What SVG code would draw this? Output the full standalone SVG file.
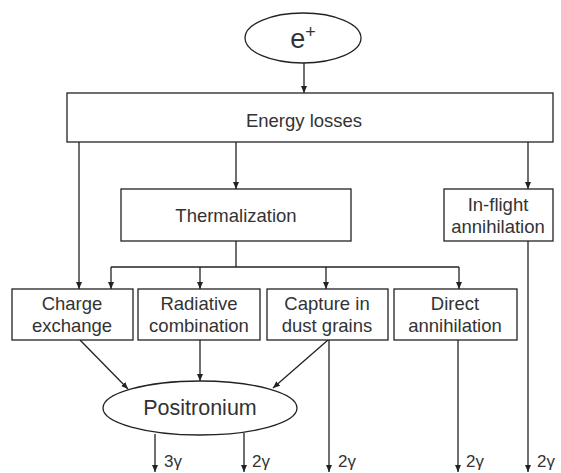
<svg xmlns="http://www.w3.org/2000/svg" width="561" height="473" viewBox="0 0 561 473">
<style>
.box{fill:#fff;stroke:#222;stroke-width:1.3}
.t{font-family:"Liberation Sans",Arial,sans-serif;font-size:18.5px;fill:#333;text-anchor:middle}
.g{font-family:"Liberation Sans",Arial,sans-serif;font-size:17px;fill:#333}
.c{fill:none;stroke:#222;stroke-width:1.3}
</style>
<defs>
<marker id="ah" markerUnits="userSpaceOnUse" markerWidth="8" markerHeight="8" viewBox="0 0 8 8" refX="7" refY="4" orient="auto">
<path d="M0,1 L7,4 L0,7 Z" fill="#222"/>
</marker>
</defs>
<rect width="561" height="473" fill="#fff"/>
<g id="connectors">
<line class="c" x1="304" y1="63" x2="304" y2="93" marker-end="url(#ah)"/>
<line class="c" x1="79" y1="142" x2="79" y2="289" marker-end="url(#ah)"/>
<line class="c" x1="236" y1="142" x2="236" y2="189" marker-end="url(#ah)"/>
<line class="c" x1="528" y1="142" x2="528" y2="189" marker-end="url(#ah)"/>
<polyline class="c" points="236,241 236,267"/>
<line class="c" x1="111" y1="267" x2="459" y2="267"/>
<line class="c" x1="111" y1="267" x2="111" y2="289" marker-end="url(#ah)"/>
<line class="c" x1="200" y1="267" x2="200" y2="289" marker-end="url(#ah)"/>
<line class="c" x1="326" y1="267" x2="326" y2="289" marker-end="url(#ah)"/>
<line class="c" x1="459" y1="267" x2="459" y2="289" marker-end="url(#ah)"/>
<line class="c" x1="80" y1="340" x2="128" y2="389" marker-end="url(#ah)"/>
<line class="c" x1="200" y1="340" x2="200" y2="381" marker-end="url(#ah)"/>
<line class="c" x1="328" y1="340" x2="273" y2="388" marker-end="url(#ah)"/>
<line class="c" x1="155" y1="434" x2="155" y2="472" marker-end="url(#ah)"/>
<line class="c" x1="244" y1="433" x2="244" y2="472" marker-end="url(#ah)"/>
<line class="c" x1="329" y1="340" x2="329" y2="472" marker-end="url(#ah)"/>
<line class="c" x1="458" y1="340" x2="458" y2="472" marker-end="url(#ah)"/>
<line class="c" x1="528" y1="241" x2="528" y2="472" marker-end="url(#ah)"/>
<text class="g" x="164" y="467">3γ</text>
<text class="g" x="252" y="467">2γ</text>
<text class="g" x="338" y="467">2γ</text>
<text class="g" x="466" y="467">2γ</text>
<text class="g" x="537" y="467">2γ</text>
</g>
<g id="eplus">
<ellipse class="box" cx="303" cy="38" rx="58" ry="25"/>
<text class="t" x="303" y="48" style="font-size:27px">e<tspan dy="-10" style="font-size:18px">+</tspan></text>
</g>
<g id="energy">
<rect class="box" x="67" y="93" width="486" height="49"/>
<text class="t" x="304" y="127" style="font-size:18.5px">Energy losses</text>
</g>
<g id="therm">
<rect class="box" x="121" y="189" width="230" height="52"/>
<text class="t" x="236" y="222">Thermalization</text>
</g>
<g id="inflight">
<rect class="box" x="444" y="189" width="109" height="52"/>
<text class="t" x="498" y="211">In-flight</text>
<text class="t" x="498" y="233">annihilation</text>
</g>
<g id="charge">
<rect class="box" x="12" y="289" width="121" height="51"/>
<text class="t" x="72" y="310">Charge</text>
<text class="t" x="72" y="332">exchange</text>
</g>
<g id="radiative">
<rect class="box" x="138" y="289" width="122" height="51"/>
<text class="t" x="199" y="310">Radiative</text>
<text class="t" x="199" y="332">combination</text>
</g>
<g id="capture">
<rect class="box" x="267" y="289" width="121" height="51"/>
<text class="t" x="327" y="310">Capture in</text>
<text class="t" x="327" y="332">dust grains</text>
</g>
<g id="direct">
<rect class="box" x="394" y="289" width="123" height="51"/>
<text class="t" x="455" y="310">Direct</text>
<text class="t" x="455" y="332">annihilation</text>
</g>
<g id="positronium">
<ellipse class="box" cx="200" cy="408" rx="97" ry="27"/>
<text class="t" x="200" y="415" style="font-size:21.5px">Positronium</text>
</g>
</svg>
